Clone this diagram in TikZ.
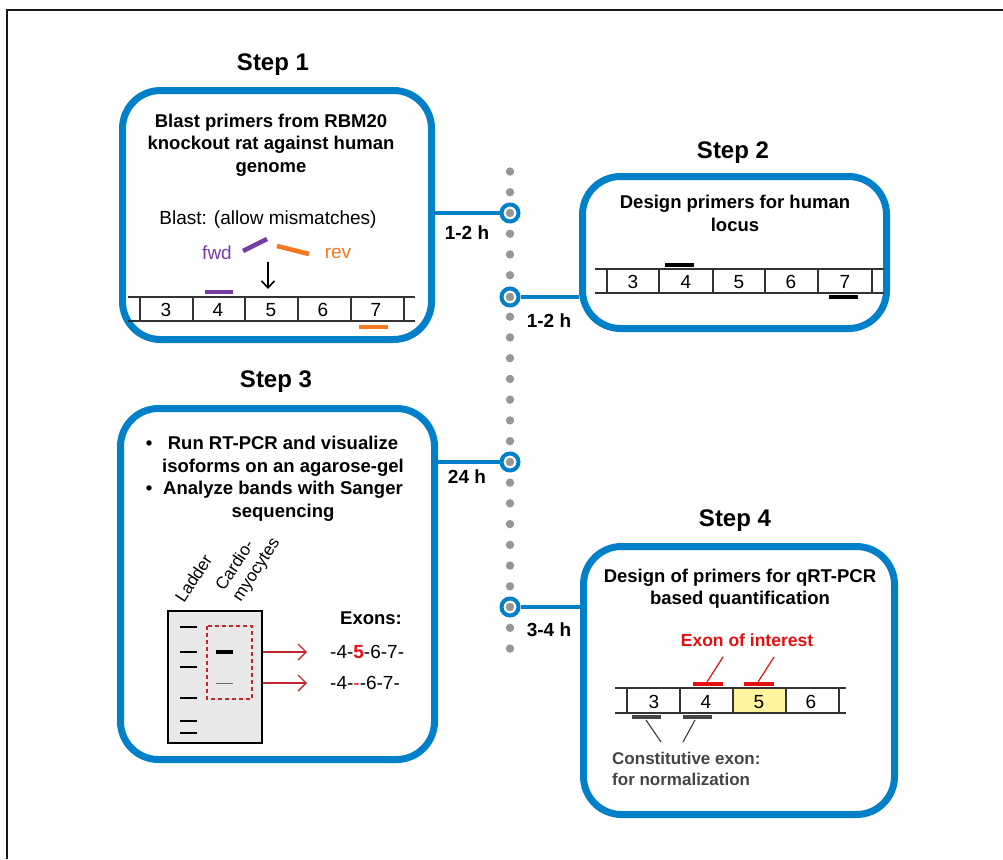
\documentclass[tikz,border=0pt]{standalone}
\usepackage{fontspec}
\setmainfont{Liberation Sans}
\usetikzlibrary{arrows.meta}
\definecolor{stepblue}{RGB}{0,128,201}
\definecolor{dotgray}{RGB}{150,150,150}
\definecolor{fwdpurple}{RGB}{120,60,160}
\definecolor{revorange}{RGB}{244,120,32}
\definecolor{darkred}{RGB}{192,40,45}
\definecolor{brightred}{RGB}{226,16,16}
\definecolor{exonyellow}{RGB}{255,245,160}
\definecolor{gelgray}{RGB}{232,232,232}
\definecolor{constgray}{RGB}{68,68,68}
\newcommand{\bodyfont}{\fontsize{18.5}{22.5}\selectfont\bfseries}
\newcommand{\plainfont}{\fontsize{19}{23}\selectfont}
\tikzset{
  stepbox/.style={draw=stepblue, line width=7pt, rounded corners=38pt, inner sep=0pt},
  steptitle/.style={font=\fontsize{24}{28}\selectfont\bfseries, inner sep=0pt},
  bodytext/.style={font=\bodyfont, align=center, inner sep=0pt},
  timelabel/.style={font=\fontsize{19}{23}\selectfont\bfseries, inner sep=0pt},
  conn/.style={draw=stepblue, line width=4pt},
  ring/.style={circle, draw=stepblue, line width=4pt, fill=white, minimum size=17pt, inner sep=0pt},
  strip/.style={draw=black!80, line width=1.3pt},
  exonnum/.style={font=\plainfont, inner sep=0pt},
  primer/.style={line width=4.6pt},
  band/.style={line width=2.6pt, black},
  seqarrow/.style={draw=darkred, line width=1.4pt, -{Straight Barb[length=8pt,width=16pt]}},
  gellabel/.style={font=\fontsize{17}{20}\selectfont, inner sep=0pt, rotate=57, align=left}
}
\begin{document}
\begin{tikzpicture}[x=1pt,y=-1pt]
\useasboundingbox (0,0) rectangle (1003,859);
% page frame
\draw[black!90, line width=2pt] (7,859) -- (7,10) -- (1003,10);

% timeline dots
\foreach \i in {-2,...,21}
  \fill[dotgray] (510,213+20.74*\i) circle[radius=4.2pt];

% step boxes
\node[stepbox, minimum width=309pt, minimum height=249pt] (box1) at (277,215) {};
\node[stepbox, minimum width=304pt, minimum height=152pt] (box2) at (734.5,252.5) {};
\node[stepbox, minimum width=314pt, minimum height=351pt] (box3) at (277.5,584) {};
\node[stepbox, minimum width=311pt, minimum height=268pt] (box4) at (739,680.5) {};

% step titles
\node[steptitle] (t1) at (273,65) {Step 1};
\node[steptitle] (t2) at (733,153) {Step 2};
\node[steptitle] (t3) at (276,382) {Step 3};
\node[steptitle] (t4) at (735,521) {Step 4};

% timeline rings and connectors
\node[ring] (r1) at (510,213) {};
\node[ring] (r2) at (510,297) {};
\node[ring] (r3) at (510,462) {};
\node[ring] (r4) at (510,607) {};
\foreach \r in {r1,r2,r3,r4}
  \fill[dotgray] (\r) circle[radius=4.2pt];
\draw[conn] (r1 -| box1.east) -- (r1.west);
\draw[conn] (r2.east) -- (r2 -| box2.west);
\draw[conn] (r3 -| box3.east) -- (r3.west);
\draw[conn] (r4.east) -- (r4 -| box4.west);
\node[timelabel] (h1) at (467,233) {1-2 h};
\node[timelabel] (h2) at (549,321) {1-2 h};
\node[timelabel] (h3) at (467,477) {24 h};
\node[timelabel] (h4) at (549,630) {3-4 h};

% ---- Step 1 ----
\node[bodytext] (b1) at (271,145) {Blast primers from RBM20\\knockout rat against human\\genome};
\node[font=\plainfont, inner sep=0pt] (blast) at (268,220) {Blast: (allow mismatches)};
\node[font=\plainfont, text=fwdpurple, inner sep=0pt] (fwd) at (217,253) {fwd};
\node[font=\plainfont, text=revorange, inner sep=0pt] (rev) at (338,253) {rev};
\draw[primer, fwdpurple] (243,251) -- (267,239);
\draw[primer, revorange] (277,246) -- (309,254);
\coordinate (ar1) at (268,262);
\coordinate (ar2) at (268,289);
\draw[black, line width=1.6pt, -{Straight Barb[length=7pt,width=13pt]}] (ar1) -- (ar2);
\draw[strip] (128,297) -- (415,297) (128,321) -- (415,321);
\foreach \x in {140,193,245,298,351,404}
  \draw[strip] (\x,297) -- (\x,321);
\foreach \n/\x in {3/166,4/218,5/271,6/323,7/376}
  \node[exonnum] (ea\n) at (\x,310) {\n};
\draw[primer, fwdpurple] (205,292) -- (233,292);
\draw[primer, revorange] (359,327) -- (388,327);

% ---- Step 2 ----
\node[bodytext] (b2) at (735,213.5) {Design primers for human\\locus};
\draw[strip] (595,269) -- (884,269) (595,293) -- (884,293);
\foreach \x in {607,659,713,765,818,872}
  \draw[strip] (\x,269) -- (\x,293);
\foreach \n/\x in {3/633,4/686,5/739,6/791,7/845}
  \node[exonnum] (eb\n) at (\x,282) {\n};
\draw[primer, black] (665,265) -- (694,265);
\draw[primer, black] (829,297) -- (858,297);

% ---- Step 3 ----
\node[bodytext] (b3) at (283,479) {Run RT-PCR and visualize\\isoforms on an agarose-gel\\Analyze bands with Sanger\\sequencing};
\node[bodytext] (bul1) at (149,445) {\textbullet};
\node[bodytext] (bul2) at (149,490) {\textbullet};
\node[gellabel, anchor=base west] (lad) at (184,604) {Ladder};
\node[gellabel, anchor=south west] (cardio) at (244,605) {Cardio-\\myocytes};
\node[draw=black, line width=1.5pt, fill=gelgray, minimum width=94pt, minimum height=132pt, inner sep=0pt] (gel) at (215,677) {};
\foreach \y in {627,652,667,698,721,733}
  \draw[band] (180,\y) -- (197,\y);
\draw[darkred, line width=1.6pt, dash pattern=on 4pt off 3pt] (207,626) rectangle (252,699);
\draw[black, line width=4pt] (216,652) -- (233,652);
\draw[black!60, line width=1pt] (216,683) -- (233,683);
\node[font=\bodyfont, inner sep=0pt] (exons) at (371,618) {Exons:};
\node[font=\plainfont, inner sep=0pt, anchor=west] (seq1) at (330,652) {-4-{\color{brightred}\bfseries 5}-6-7-};
\node[font=\plainfont, inner sep=0pt, anchor=west] (seq2) at (330,683) {-4-{\color{brightred}-}-6-7-};
\draw[seqarrow] (gel.east |- seq1) -- ([xshift=-23pt]seq1.west);
\draw[seqarrow] (gel.east |- seq2) -- ([xshift=-23pt]seq2.west);

% ---- Step 4 ----
\node[bodytext] (b4) at (740,588.5) {Design of primers for qRT-PCR\\based quantification};
\node[font=\fontsize{17.5}{21}\selectfont\bfseries, text=brightred, inner sep=0pt] (eoi) at (747,640) {Exon of interest};
\fill[exonyellow] (733,688) rectangle (786,713);
\draw[strip] (615,688) -- (846,688) (615,713) -- (846,713);
\foreach \x in {627,680,733,786,839}
  \draw[strip] (\x,688) -- (\x,713);
\foreach \n/\x in {3/654,4/706,5/759,6/811}
  \node[exonnum] (ec\n) at (\x,702) {\n};
\draw[primer, brightred] (693,684) -- (723,684);
\draw[primer, brightred] (744,684) -- (774,684);
\draw[brightred, line width=1.2pt] (707,682) -- (723,657);
\draw[brightred, line width=1.2pt] (758,682) -- (774,657);
\draw[primer, constgray] (632,717) -- (661,717);
\draw[primer, constgray] (683,717) -- (712,717);
\draw[constgray, line width=1.2pt] (646,720) -- (661,742);
\draw[constgray, line width=1.2pt] (695,720) -- (683,742);
\node[font=\fontsize{17}{21}\selectfont\bfseries, text=constgray, align=left, inner sep=0pt, anchor=north west] (cons) at (612,752) {Constitutive exon:\\for normalization};
\end{tikzpicture}
\end{document}
